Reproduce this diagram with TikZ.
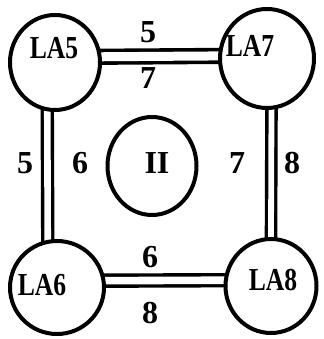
\documentclass[tikz,border=0pt]{standalone}
\usepackage{fontspec}
\setmainfont{Liberation Serif}
\usetikzlibrary{shapes.geometric}
\pgfdeclarelayer{bg}
\pgfsetlayers{bg,main}
\begin{document}
\begin{tikzpicture}[x=1pt,y=1pt,
  ring/.style={ellipse,draw,line width=4pt,fill=white,inner sep=0pt},
  lbl/.style={font=\fontsize{32}{32}\selectfont\bfseries,inner sep=0pt},
  nm/.style={lbl,xscale=0.8},
  dbl/.style={draw,line width=3.4pt,double=white,double distance=7pt,shorten <=-7pt,shorten >=-7pt}]
\useasboundingbox (0,0) rectangle (323,339);
% rings
\node[ring,minimum width=90pt,minimum height=95pt] (LA5) at (55,276.5) {};
\node[ring,minimum width=94pt,minimum height=99pt] (LA7) at (267,280.5) {};
\node[ring,minimum width=94pt,minimum height=93pt] (LA6) at (57,51.5) {};
\node[ring,minimum width=91pt,minimum height=94pt] (LA8) at (271,53) {};
\node[ring,minimum width=89pt,minimum height=98pt] (II) at (152,173) {};
% ring texts
\node[nm] (LA5t) at (54,291) {LA5};
\node[nm] (LA7t) at (250,293) {LA7};
\node[nm] (LA6t) at (42,54) {LA6};
\node[nm] (LA8t) at (273,58.5) {LA8};
\node[lbl] (IIt) at (157,176) {II};
% connectors
\begin{pgfonlayer}{bg}
\draw[dbl,line width=3.6pt,double distance=9pt] (LA5.7) -- (LA7.177.6);
\draw[dbl,double distance=6.6pt] (LA5.261.5) -- (LA6.101);
\draw[dbl,double distance=5.8pt] (LA7.275.2) -- (LA8.90);
\draw[dbl,double distance=7.6pt] (LA6.8.5) -- (LA8.173.3);
\end{pgfonlayer}
% edge labels
\node[lbl] (t5) at (148,307) {5};
\node[lbl] (t7) at (148,261) {7};
\node[lbl] (l5) at (25,176) {5};
\node[lbl] (l6) at (80,176) {6};
\node[lbl] (r7) at (237,176) {7};
\node[lbl] (r8) at (292,176) {8};
\node[lbl] (b6) at (150,82) {6};
\node[lbl] (b8) at (150,26) {8};
\end{tikzpicture}
\end{document}
